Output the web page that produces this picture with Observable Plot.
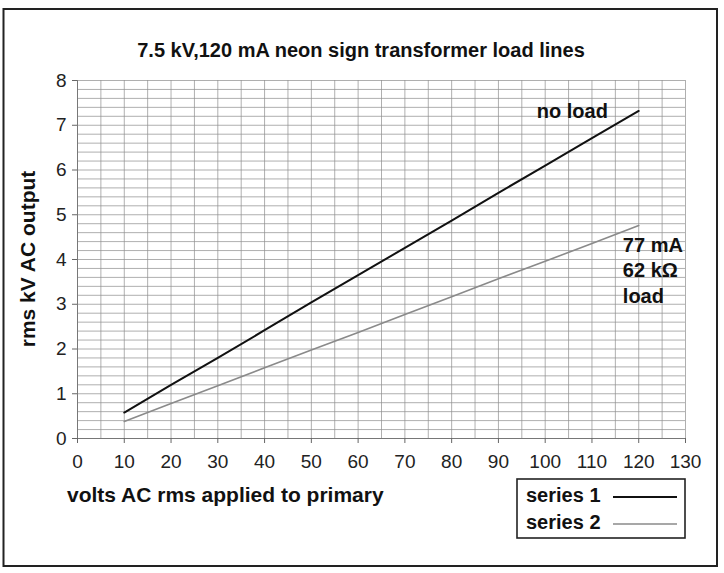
<!DOCTYPE html>
<html>
<head>
<meta charset="utf-8">
<script src="https://cdn.jsdelivr.net/npm/d3@7"></script>
<script src="https://cdn.jsdelivr.net/npm/@observablehq/plot@0.6"></script>
<style>
  html, body { margin: 0; padding: 0; background: #fff; }
  #chart svg { display: block; }
</style>
</head>
<body>
<div id="chart"></div>
<script>
// ---- data ----
const voltsPrimary = [10, 20, 30, 40, 50, 60, 70, 80, 90, 100, 110, 120];
const series1 = [0.58, 1.2, 1.8, 2.42, 3.04, 3.65, 4.26, 4.87, 5.49, 6.1, 6.71, 7.32];
const series2 = [0.38, 0.78, 1.18, 1.58, 1.98, 2.37, 2.77, 3.17, 3.57, 3.96, 4.36, 4.76];
const xTicks = [0, 10, 20, 30, 40, 50, 60, 70, 80, 90, 100, 110, 120, 130];
const yTicks = [0, 1, 2, 3, 4, 5, 6, 7, 8];
const xGrid = d3.range(0, 131, 5);
const yGrid = d3.range(0, 8.001, 0.2).map(v => +v.toFixed(1));
const seriesNames = ["series 1", "series 2"];
const seriesColors = ["#111", "#8a8a8a"];
const titleText = "7.5 kV,120 mA neon sign transformer load lines";
const xLabel = "volts AC rms applied to primary";
const yLabel = "rms kV AC output";
const noteNoLoad = [{x: 105.8, y: 7.3, text: "no load"}];
const noteLoad = [
  {x: 116.6, y: 4.3, text: "77 mA"},
  {x: 116.6, y: 3.76, text: "62 kΩ"},
  {x: 116.6, y: 3.17, text: "load"}
];

const rows = [];
seriesNames.forEach((name, i) => {
  const vals = i === 0 ? series1 : series2;
  voltsPrimary.forEach((v, j) => rows.push({series: name, volts: v, kv: vals[j]}));
});

const font = "'Liberation Sans', Arial, Helvetica, sans-serif";

const plot = Plot.plot({
  width: 724,
  height: 573,
  marginLeft: 77,
  marginRight: 39,
  marginTop: 80,
  marginBottom: 135,
  style: {fontFamily: font, fontSize: "18px", background: "#fff", color: "#111"},
  x: {domain: [0, 130], label: null},
  y: {domain: [0, 8], label: null},
  color: {domain: seriesNames, range: seriesColors},
  marks: [
    Plot.gridX(xGrid, {stroke: "#8f8f8f", strokeOpacity: 0.8, strokeWidth: 0.9}),
    Plot.gridY(yGrid, {stroke: "#8f8f8f", strokeOpacity: 0.8, strokeWidth: 0.9}),
    Plot.ruleX([0], {stroke: "#777", strokeWidth: 1}),
    Plot.ruleY([0], {stroke: "#777", strokeWidth: 1}),
    Plot.axisX({ticks: xTicks, tickSize: 5, tickPadding: 11, stroke: "#666", fontSize: 19, fill: "#222", tickFormat: d => d}),
    Plot.axisY({ticks: yTicks, tickSize: 5, tickPadding: 6, stroke: "#666", fontSize: 19, fill: "#222", tickFormat: d => d}),
    Plot.line(rows, {x: "volts", y: "kv", z: "series", stroke: "series", strokeWidth: d => d.series === "series 1" ? 2 : 1.6}),
    Plot.text(noteNoLoad, {x: "x", y: "y", text: "text", textAnchor: "middle", fontWeight: "bold", fontSize: 20, fill: "#111"}),
    Plot.text(noteLoad, {x: "x", y: "y", text: "text", textAnchor: "start", fontWeight: "bold", fontSize: 20, fill: "#111"})
  ]
});

document.getElementById("chart").appendChild(plot);

// ---- decorations: frame, title, axis labels, legend ----
const svg = d3.select(plot);
svg.append("rect")
  .attr("x", 3.5).attr("y", 9).attr("width", 713.5).attr("height", 557)
  .attr("fill", "none").attr("stroke", "#222").attr("stroke-width", 2);
svg.append("text")
  .attr("x", 361).attr("y", 57).attr("text-anchor", "middle")
  .attr("font-family", font).attr("font-weight", "bold").attr("font-size", 20)
  .attr("fill", "#111").text(titleText);
svg.append("text")
  .attr("transform", "translate(35,259) rotate(-90)").attr("text-anchor", "middle")
  .attr("font-family", font).attr("font-weight", "bold").attr("font-size", 21)
  .attr("fill", "#111").text(yLabel);
svg.append("text")
  .attr("x", 67).attr("y", 502).attr("text-anchor", "start")
  .attr("font-family", font).attr("font-weight", "bold").attr("font-size", 21)
  .attr("fill", "#111").text(xLabel);

const lg = svg.append("g");
lg.append("rect").attr("x", 517).attr("y", 479).attr("width", 168).attr("height", 59)
  .attr("fill", "#fff").attr("stroke", "#222").attr("stroke-width", 1.6);
seriesNames.forEach((name, i) => {
  const yy = 497 + i * 27;
  lg.append("text").attr("x", 526).attr("y", yy + 5).attr("text-anchor", "start")
    .attr("font-family", font).attr("font-weight", "bold").attr("font-size", 20)
    .attr("fill", "#111").text(name);
  lg.append("line").attr("x1", 613).attr("x2", 677).attr("y1", yy).attr("y2", yy)
    .attr("stroke", seriesColors[i]).attr("stroke-width", i === 0 ? 2 : 1.4);
});
</script>
</body>
</html>
